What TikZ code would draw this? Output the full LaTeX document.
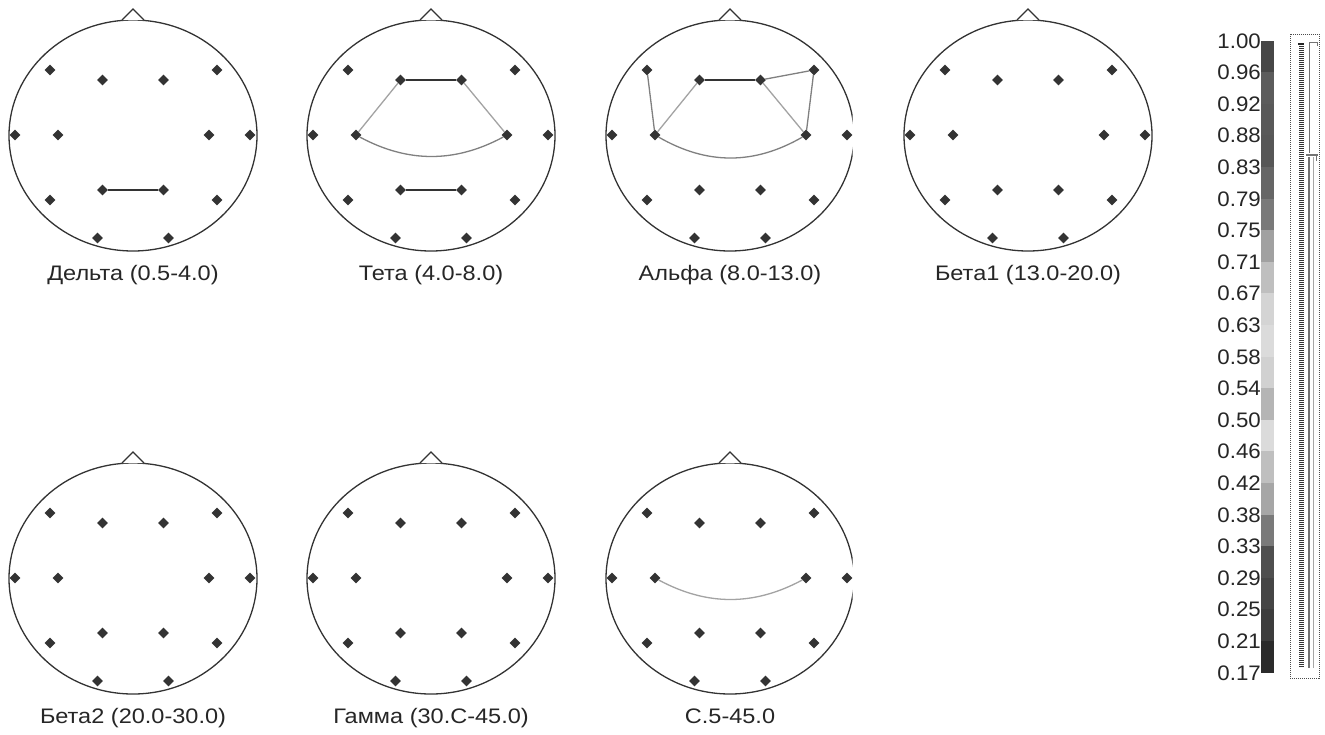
\documentclass[tikz,border=0pt]{standalone}
\usepackage{fontspec}
\setmainfont{Liberation Sans}
\usetikzlibrary{shapes.geometric}
\tikzset{
  elec/.style={diamond, fill=black!80, inner sep=0pt, minimum width=11pt, minimum height=11pt},
  headline/.style={draw=black!80, line width=1.3pt},
  lbl/.style={font=\fontsize{21}{25}\selectfont, text=black!85, inner sep=0pt, anchor=base, xscale=1.12},
  cblbl/.style={font=\fontsize{21}{25}\selectfont, text=black!85, inner sep=0pt, anchor=base east, xscale=1.06},
  conn/.style={line width=1.3pt},
  cdark/.style={conn, draw=black!80},
  cmid/.style={conn, draw=black!50},
  clight/.style={conn, draw=black!36},
}
\newcommand\eeghead[5]{%
  \begin{scope}[shift={(#2,#3)}]
    \begin{scope}
      \clip (-130,-130) rectangle (#5,130);
      \draw[headline] (0,0.5) ellipse [x radius=124pt, y radius=115.5pt];
    \end{scope}
    \draw[headline, fill=white, line width=1.1pt] (-11,-115) -- (0,-126) -- (11,-115);
    \node[elec] (#1a1) at (-83,-65) {};
    \node[elec] (#1a2) at (-30.5,-55) {};
    \node[elec] (#1a3) at (30.5,-55) {};
    \node[elec] (#1a4) at (84,-65) {};
    \node[elec] (#1b1) at (-118,0) {};
    \node[elec] (#1b2) at (-75,0) {};
    \node[elec] (#1b3) at (76,0) {};
    \node[elec] (#1b4) at (117,0) {};
    \node[elec] (#1c1) at (-83,65) {};
    \node[elec] (#1c2) at (-30.5,55) {};
    \node[elec] (#1c3) at (30.5,55) {};
    \node[elec] (#1c4) at (84,65) {};
    \node[elec] (#1d1) at (-35.5,103) {};
    \node[elec] (#1d2) at (35.5,103) {};
    \node[lbl] (#1lab) at (0,145) {#4};
  \end{scope}}
\begin{document}
\begin{tikzpicture}[x=1pt,y=-1pt]
  \fill[white] (0,0) rectangle (1325,734);
  \useasboundingbox (0,0) rectangle (1325,734);

  \eeghead{h1}{133}{135}{Дельта (0.5-4.0)}{140}
  \eeghead{h2}{431}{135}{Тета (4.0-8.0)}{140}
  \eeghead{h3}{730}{135}{Альфа (8.0-13.0)}{122.5}
  \eeghead{h4}{1028}{135}{Бета1 (13.0-20.0)}{140}
  \eeghead{h5}{133}{578}{Бета2 (20.0-30.0)}{140}
  \eeghead{h6}{431}{578}{Гамма (30.C-45.0)}{140}
  \eeghead{h7}{730}{578}{C.5-45.0}{122.5}

  % Delta
  \draw[cdark] (h1c2) -- (h1c3);
  % Theta
  \draw[cdark] (h2a2) -- (h2a3);
  \draw[clight] (h2a2) -- (h2b2);
  \draw[clight] (h2a3) -- (h2b3);
  \draw[cmid] (h2b2) .. controls +(52,28) and +(-52,28) .. (h2b3);
  \draw[cdark] (h2c2) -- (h2c3);
  % Alpha
  \draw[cdark] (h3a2) -- (h3a3);
  \draw[cmid] (h3a1) -- (h3b2);
  \draw[clight] (h3a2) -- (h3b2);
  \draw[cmid] (h3a3) -- (h3a4);
  \draw[cmid] (h3a4) -- (h3b3);
  \draw[clight] (h3a3) -- (h3b3);
  \draw[cmid] (h3b2) .. controls +(52,30) and +(-52,30) .. (h3b3);
  % 0.5-45
  \draw[clight] (h7b2) .. controls +(52,28) and +(-52,28) .. (h7b3);

  % colour bar
  \foreach \g [count=\i] in {.28,.36,.35,.34,.40,.48,.63,.75,.83,.86,.82,.71,.86,.75,.65,.48,.31,.27,.24,.17} {
    \definecolor{segc}{gray}{\g}
    \fill[segc] (1261,{40.5+31.6*(\i-1)}) rectangle (1274,{40.5+31.6*\i});
  }
  \foreach \t [count=\i from 0] in {1.00,0.96,0.92,0.88,0.83,0.79,0.75,0.71,0.67,0.63,0.58,0.54,0.50,0.46,0.42,0.38,0.33,0.29,0.25,0.21,0.17}
    \node[cblbl] (cb\i) at (1261,{40.5+31.6*\i+7.5}) {\t};

  % slider
  \draw[black!70, line width=0.8pt, dash pattern=on 1pt off 1pt] (1290,34) rectangle (1319,678);
  \draw[black!80, line width=5pt, dash pattern=on 1pt off 1pt] (1301,44) -- (1301,668);
  \draw[black!85, line width=1.5pt] (1298,44) -- (1304,44);
  \draw[black!55, line width=1pt] (1317,46) -- (1317,42) -- (1309,42) -- (1309,153);
  \draw[black!55, line width=1.3pt] (1306,155) -- (1318,155);
  \draw[black!55, line width=1pt] (1316,155) -- (1316,161);
  \draw[black!55, line width=1.2pt] (1309,157) -- (1309,668);
  \draw[black!35, line width=1pt] (1313,157) -- (1313,668);
\end{tikzpicture}
\end{document}
